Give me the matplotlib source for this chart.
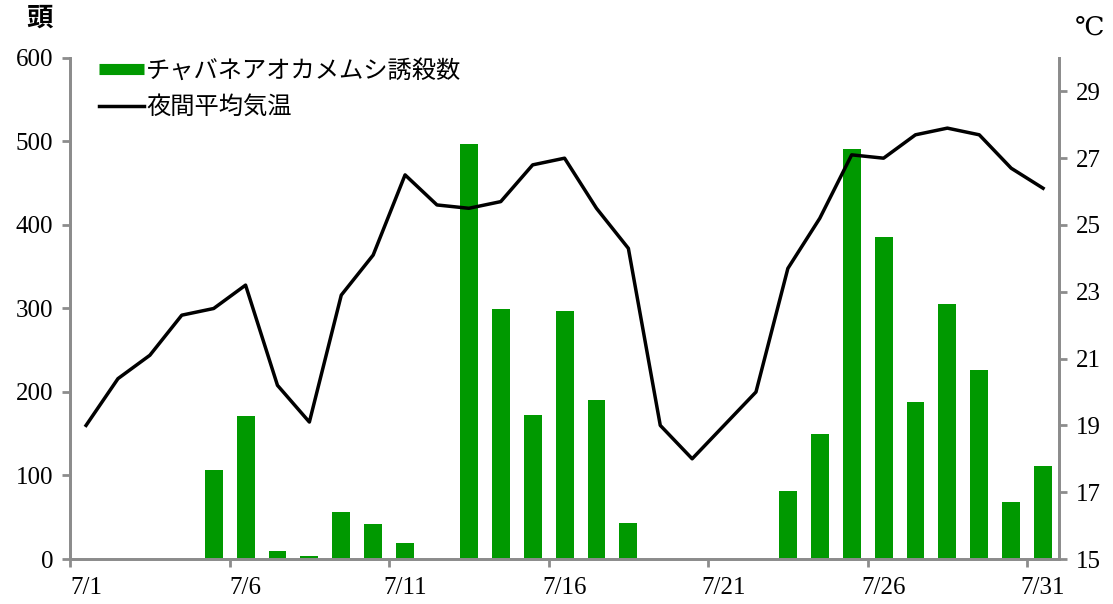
import matplotlib.pyplot as plt
from matplotlib.lines import Line2D

plt.rcParams['font.family'] = ['Liberation Serif', 'Noto Sans CJK JP']

days = ["7/%d" % d for d in range(1, 32)]
counts = [0, 0, 0, 0, 107, 171, 9, 3, 56, 42, 19, 0, 497, 299, 173, 297, 191, 43,
          0, 0, 0, 0, 81, 150, 491, 386, 188, 305, 226, 68, 111]
temps = [19.0, 20.4, 21.1, 22.3, 22.5, 23.2, 20.2, 19.1, 22.9, 24.1, 26.5, 25.6,
         25.5, 25.7, 26.8, 27.0, 25.5, 24.3, 19.0, 18.0, 19.0, 20.0, 23.7, 25.2,
         27.1, 27.0, 27.7, 27.9, 27.7, 26.7, 26.1]
label_bar = "チャバネアオカメムシ誘殺数"
label_line = "夜間平均気温"

green = "#009900"
gray = "#8c8c8c"

fig = plt.figure(figsize=(11.13, 6.04), dpi=100)
ax = fig.add_axes([0.063, 0.0745, 0.8885, 0.8295])
ax2 = ax.twinx()

x = list(range(len(days)))
ax.bar(x, counts, width=0.56, color=green, zorder=2)
ax2.plot(x, temps, color="black", lw=2.5, zorder=3)

ax.set_xlim(-0.5, len(days) - 0.5)
ax.set_ylim(0, 600)
ax.set_yticks(range(0, 601, 100))
ax2.set_ylim(15, 30)
ax2.set_yticks(range(15, 30, 2))

# tick marks at category boundaries, labels at centres
ax.set_xticks([i - 0.5 for i in range(0, 31, 5)])
ax.set_xticklabels([])
ax.set_xticks(range(0, 31, 5), minor=True)
ax.set_xticklabels([days[i] for i in range(0, 31, 5)], minor=True)
ax.tick_params(axis="x", which="minor", length=0, pad=13, labelsize=18)
ax.tick_params(axis="x", which="major", length=6, width=2, color=gray)
ax.tick_params(axis="y", length=6, width=2, color=gray, labelsize=18, pad=6)
ax2.tick_params(axis="y", length=6, width=2, color=gray, labelsize=18, pad=6)

for a in (ax, ax2):
    a.spines["top"].set_visible(False)
    for s in ("left", "right", "bottom"):
        a.spines[s].set_color(gray)
        a.spines[s].set_linewidth(2)
ax2.set_zorder(ax.get_zorder() + 1)
ax2.patch.set_visible(False)

handles = [Line2D([], [], color=green, lw=8, solid_capstyle="butt"),
           Line2D([], [], color="black", lw=2.5)]
ax.legend(handles, [label_bar, label_line], loc="upper left",
          bbox_to_anchor=(0.007, 1.045), frameon=False,
          handlelength=1.85, handletextpad=0.1, labelspacing=0.45,
          prop={"family": ["Noto Sans CJK JP"], "size": 17.5})

fig.text(0.035, 0.97, "頭", ha="center", va="center", fontsize=19,
         fontweight="bold", family=["Noto Sans CJK JP"])
fig.text(0.979, 0.955, "℃", ha="center", va="center", fontsize=19,
         family=["DejaVu Serif"])

fig.savefig("out.png", dpi=100)
